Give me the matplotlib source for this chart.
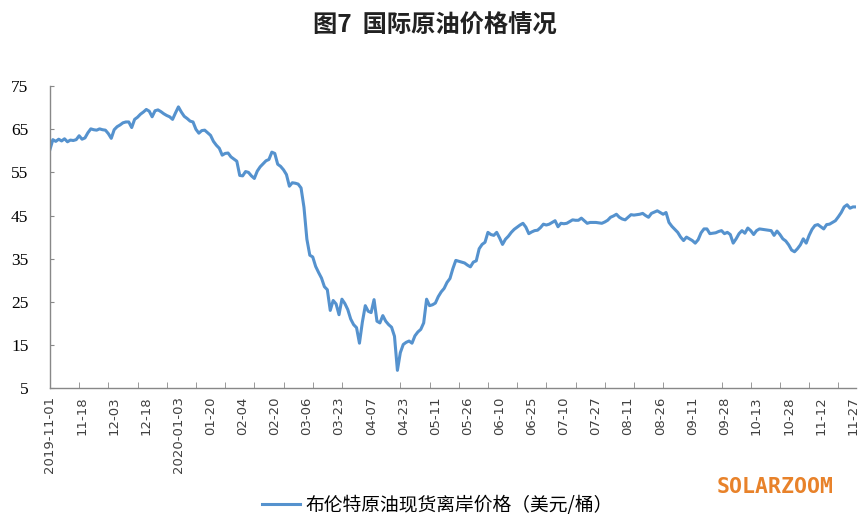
import numpy as np
import matplotlib
matplotlib.use('Agg')
import matplotlib.pyplot as plt

plt.rcParams['font.family'] = ['Noto Sans CJK SC', 'DejaVu Sans']

# Brent spot (FOB), USD per barrel, one value per trading day from 2019-11-01
brent = [
	60.3, 62.6, 62.2, 62.7, 62.3, 62.8, 62.1, 62.5, 62.4, 62.6,
	63.5, 62.7, 63.0, 64.2, 65.1, 64.9, 64.8, 65.1, 64.9, 64.8,
	64.0, 62.9, 64.9, 65.6, 66.0, 66.5, 66.7, 66.7, 65.4, 67.3,
	67.8, 68.5, 69.0, 69.6, 69.2, 67.9, 69.3, 69.5, 69.1, 68.6,
	68.2, 67.9, 67.3, 68.8, 70.2, 69.0, 68.0, 67.5, 66.9, 66.7,
	65.0, 64.1, 64.7, 64.8, 64.2, 63.6, 62.2, 61.3, 60.6, 59.0,
	59.4, 59.5, 58.6, 58.1, 57.6, 54.3, 54.2, 55.2, 55.0, 54.2,
	53.6, 55.3, 56.3, 57.0, 57.7, 58.0, 59.7, 59.4, 56.9, 56.4,
	55.6, 54.5, 51.8, 52.6, 52.5, 52.3, 51.4, 46.9, 39.5, 35.8,
	35.4, 33.2, 31.8, 30.5, 28.5, 27.8, 23.0, 25.3, 24.5, 22.0,
	25.6, 24.6, 23.2, 21.0, 19.7, 19.0, 15.4, 20.3, 24.1, 22.8,
	22.5, 25.5, 20.5, 20.1, 21.8, 20.5, 19.7, 19.1, 17.0, 9.1,
	13.2, 15.1, 15.6, 15.9, 15.4, 17.1, 18.0, 18.6, 20.1, 25.6,
	24.1, 24.3, 24.7, 26.2, 27.3, 28.1, 29.5, 30.4, 32.7, 34.6,
	34.4, 34.2, 34.0, 33.5, 33.1, 34.2, 34.5, 37.3, 38.3, 38.8,
	41.1, 40.6, 40.4, 41.1, 39.8, 38.3, 39.5, 40.2, 41.1, 41.8,
	42.3, 42.8, 43.2, 42.3, 40.8, 41.2, 41.5, 41.6, 42.2, 43.0,
	42.8, 43.0, 43.4, 43.8, 42.4, 43.2, 43.1, 43.2, 43.6, 44.0,
	43.9, 43.9, 44.4, 43.8, 43.2, 43.4, 43.4, 43.4, 43.3, 43.2,
	43.5, 43.9, 44.6, 44.9, 45.3, 44.6, 44.2, 44.0, 44.6, 45.2,
	45.1, 45.2, 45.3, 45.5, 45.0, 44.6, 45.5, 45.8, 46.1, 45.7,
	45.3, 45.7, 43.4, 42.5, 41.8, 41.1, 40.0, 39.2, 40.0, 39.6,
	39.2, 38.6, 39.4, 41.0, 41.9, 41.9, 40.8, 40.9, 41.0, 41.3,
	41.5, 40.8, 41.1, 40.6, 38.6, 39.6, 40.8, 41.5, 40.9, 42.1,
	41.5, 40.6, 41.5, 41.9, 41.8, 41.7, 41.6, 41.5, 40.4, 41.4,
	40.6, 39.6, 39.1, 38.2, 37.0, 36.6, 37.3, 38.2, 39.6, 38.6,
	40.4, 41.8, 42.7, 42.9, 42.4, 41.9, 42.9, 43.0, 43.4, 43.8,
	44.7, 45.7, 47.0, 47.5, 46.7, 47.0, 47.0,
]

# date labels shown every 11 trading days
date_labels = ['2019-11-01', '11-18', '12-03', '12-18', '2020-01-03', '01-20',
	'02-04', '02-20', '03-06', '03-23', '04-07', '04-23', '05-11', '05-26',
	'06-10', '06-25', '07-10', '07-27', '08-11', '08-26', '09-11', '09-28',
	'10-13', '10-28', '11-12', '11-27']

y_ticks = [5, 15, 25, 35, 45, 55, 65, 75]

series_name = '布伦特原油现货离岸价格（美元/桶）'
title = '图7  国际原油价格情况'


x = np.arange(len(brent))

fig = plt.figure(figsize=(8.61, 5.16), dpi=100)
ax  = fig.add_axes([0.058, 0.248, 0.936, 0.585])

line, = ax.plot(x, brent, color='#5592CE', lw=2.2, label=series_name)

ax.set_xlim(0, len(brent) - 1)
ax.set_ylim(5, 75)

# labels every 11 points, tick marks every 10 points
ax.set_xticks(np.arange(len(date_labels)) * 11)
ax.set_xticklabels(date_labels, rotation=90, fontsize=9.5, color='#404040',
	family='DejaVu Sans')
ax.set_xticks(np.arange(0, len(brent), 10), minor=True)
ax.tick_params(axis='x', which='major', length=0, pad=6)
ax.tick_params(axis='x', which='minor', direction='in', length=4, color='#888888')

ax.set_yticks(y_ticks)
ax.set_yticklabels([str(v) for v in y_ticks], fontsize=12.5, family='Liberation Serif')
ax.tick_params(axis='y', direction='in', length=3, color='#888888', pad=15.5)

for s in ['top', 'right']:
	ax.spines[s].set_visible(False)
for s in ['left', 'bottom']:
	ax.spines[s].set_color('#888888')
	ax.spines[s].set_linewidth(1.0)

fig.text(0.505, 0.950, title, ha='center', va='center', fontsize=17.5, fontweight='bold',
	color='#222222')

fig.legend(handles=[line], loc='center', bbox_to_anchor=(0.508, 0.021), frameon=False,
	fontsize=13.5, handlelength=2.0, handletextpad=0.3)

fig.text(0.9, 0.056, 'SOLARZOOM', ha='center', va='center', fontsize=15.5,
	fontweight='bold', family='DejaVu Sans Mono', color='#E8822A')

plt.savefig('out.png', dpi=100)
